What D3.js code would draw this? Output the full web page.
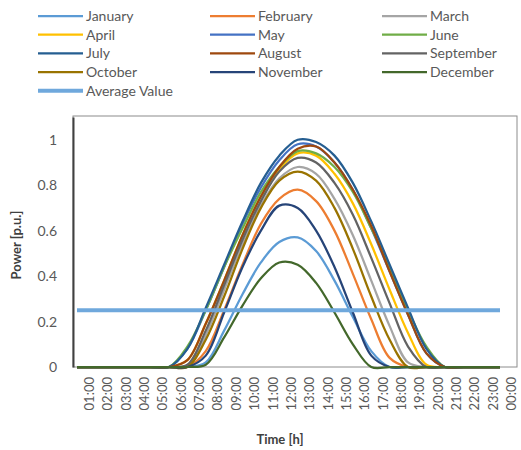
<!DOCTYPE html>
<html>
<head>
<meta charset="utf-8">
<script src="https://cdn.jsdelivr.net/npm/d3@7"></script>
<style>
  body { margin: 0; background: #fff; }
  text { font-family: Lato, "Open Sans", sans-serif; }
</style>
</head>
<body>
<svg id="chart" width="521" height="450"></svg>
<script>
// hours on the category axis
var hours = ["01:00","02:00","03:00","04:00","05:00","06:00","07:00","08:00","09:00","10:00","11:00","12:00",
             "13:00","14:00","15:00","16:00","17:00","18:00","19:00","20:00","21:00","22:00","23:00","00:00"];

// monthly profiles (p.u.)
var january   = [0,0,0,0,0,0,0,0.02,0.16,0.32,0.46,0.55,0.57,0.51,0.38,0.22,0.07,0,0,0,0,0,0,0];
var february  = [0,0,0,0,0,0,0,0.07,0.25,0.45,0.63,0.74,0.78,0.73,0.60,0.41,0.21,0.04,0,0,0,0,0,0];
var march     = [0,0,0,0,0,0,0,0.14,0.34,0.54,0.71,0.83,0.88,0.85,0.74,0.58,0.38,0.18,0.02,0,0,0,0,0];
var april     = [0,0,0,0,0,0,0.03,0.19,0.38,0.58,0.75,0.87,0.94,0.93,0.85,0.72,0.54,0.34,0.15,0.01,0,0,0,0];
var may       = [0,0,0,0,0,0,0.08,0.25,0.44,0.63,0.79,0.91,0.98,0.97,0.90,0.78,0.61,0.42,0.23,0.06,0,0,0,0];
var june      = [0,0,0,0,0,0,0.09,0.25,0.44,0.61,0.77,0.88,0.95,0.94,0.88,0.77,0.61,0.44,0.25,0.09,0,0,0,0];
var july      = [0,0,0,0,0,0,0.08,0.26,0.45,0.64,0.81,0.93,1.00,0.99,0.93,0.81,0.64,0.45,0.26,0.08,0,0,0,0];
var august    = [0,0,0,0,0,0,0.03,0.19,0.38,0.58,0.75,0.88,0.96,0.97,0.90,0.78,0.62,0.42,0.23,0.06,0,0,0,0];
var september = [0,0,0,0,0,0,0.01,0.16,0.36,0.56,0.73,0.86,0.92,0.90,0.81,0.67,0.48,0.28,0.09,0,0,0,0,0];
var october   = [0,0,0,0,0,0,0,0.12,0.31,0.52,0.70,0.82,0.86,0.82,0.70,0.52,0.31,0.12,0,0,0,0,0,0];
var november  = [0,0,0,0,0,0,0,0.05,0.24,0.44,0.60,0.71,0.70,0.60,0.44,0.24,0.05,0,0,0,0,0,0,0];
var december  = [0,0,0,0,0,0,0,0.01,0.13,0.27,0.39,0.46,0.45,0.37,0.24,0.10,0,0,0,0,0,0,0,0];
var average   = [0.25,0.25,0.25,0.25,0.25,0.25,0.25,0.25,0.25,0.25,0.25,0.25,
                 0.25,0.25,0.25,0.25,0.25,0.25,0.25,0.25,0.25,0.25,0.25,0.25];

var yTicks = [0, 0.2, 0.4, 0.6, 0.8, 1];

var seriesNames = ["January","February","March","April","May","June","July","August",
                   "September","October","November","December","Average Value"];
var seriesValues = [january,february,march,april,may,june,july,august,
                    september,october,november,december,average];
var seriesColors = ["#5B9BD5","#ED7D31","#A5A5A5","#FFC000","#4472C4","#70AD47","#255E91","#9E480E",
                    "#636363","#997300","#264478","#43682B","#6FA8DC"];

var svg = d3.select("#chart");

// scales
var x = d3.scalePoint().domain(hours).range([77, 500]);
var xLab = d3.scalePoint().domain(hours).range([89, 511]);
var y = d3.scaleLinear().domain([0, 1.1]).range([367, 117]);

// plot frame
svg.append("rect")
  .attr("x", 73).attr("y", 116)
  .attr("width", 444).attr("height", 251)
  .attr("fill", "none")
  .attr("stroke", "#8c8c8c")
  .attr("stroke-width", 1);

// Y axis
var yAxis = svg.append("g")
  .attr("transform", "translate(73,0)")
  .call(d3.axisLeft(y).tickValues(yTicks).tickSize(0).tickPadding(16).tickFormat(d3.format("")));
yAxis.select(".domain").attr("stroke", "#404040").attr("stroke-width", 2);
yAxis.selectAll("text").attr("font-size", 14).attr("fill", "#595959");

// X axis labels (rotated)
var xAxis = svg.append("g")
  .attr("transform", "translate(0,368)")
  .call(d3.axisBottom(xLab).tickSize(0));
xAxis.select(".domain").remove();
xAxis.selectAll("text")
  .attr("transform", "rotate(-90)")
  .attr("x", -9)
  .attr("y", 0)
  .attr("dy", "0.35em")
  .attr("text-anchor", "end")
  .attr("font-size", 13)
  .attr("fill", "#595959");

// lines (smoothed like the spreadsheet original)
var line = d3.line()
  .x(function (d, i) { return x(hours[i]); })
  .y(function (d) { return y(d); })
  .curve(d3.curveCatmullRom.alpha(0.5));

svg.append("g")
  .selectAll("path")
  .data(seriesValues)
  .enter()
  .append("path")
  .attr("d", line)
  .attr("fill", "none")
  .attr("stroke", function (d, i) { return seriesColors[i]; })
  .attr("stroke-width", function (d, i) { return i == 12 ? 4 : 2.25; });

// axis titles
svg.append("text")
  .attr("transform", "translate(21,245) rotate(-90)")
  .attr("text-anchor", "middle")
  .attr("font-size", 13)
  .attr("font-weight", "bold")
  .attr("fill", "#404040")
  .text("Power [p.u.]");

svg.append("text")
  .attr("x", 280).attr("y", 444)
  .attr("text-anchor", "middle")
  .attr("font-size", 13)
  .attr("font-weight", "bold")
  .attr("fill", "#404040")
  .text("Time [h]");

// legend, 3 columns
var legend = svg.append("g")
  .selectAll("g")
  .data(seriesNames)
  .enter()
  .append("g")
  .attr("transform", function (d, i) {
    return "translate(" + (38 + (i % 3) * 172) + "," + (16 + Math.floor(i / 3) * 18.7) + ")";
  });
legend.append("line")
  .attr("x1", 0).attr("x2", 45)
  .attr("stroke", function (d, i) { return seriesColors[i]; })
  .attr("stroke-width", function (d, i) { return i == 12 ? 4 : 2.25; });
legend.append("text")
  .attr("x", 48)
  .attr("dy", "0.35em")
  .attr("font-size", 14)
  .attr("fill", "#595959")
  .text(function (d) { return d; });
</script>
</body>
</html>
